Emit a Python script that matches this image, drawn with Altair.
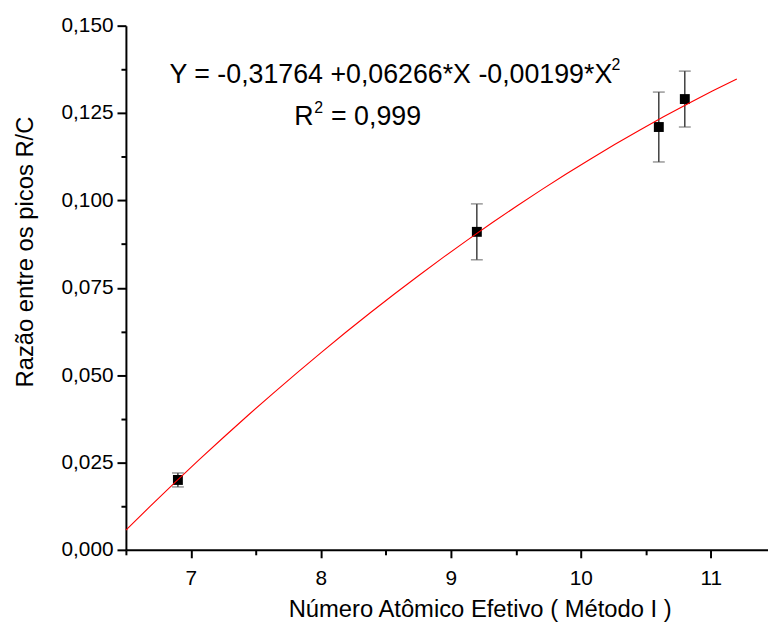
import altair as alt
import pandas as pd

# ---- data ----
x_vals = [6.9, 9.2, 10.6, 10.8]
y_vals = [0.020, 0.091, 0.121, 0.129]
y_err = [0.002, 0.008, 0.010, 0.008]

fit_extent = [6.5, 11.2]
x_domain = [6.5, 11.44]
y_domain = [0.0, 0.15]
x_ticks = [6.5, 7, 7.5, 8, 8.5, 9, 9.5, 10, 10.5, 11]
y_ticks = [0.0, 0.0125, 0.025, 0.0375, 0.05, 0.0625, 0.075, 0.0875,
           0.1, 0.1125, 0.125, 0.1375, 0.15]

x_title = ["Número Atômico Efetivo ( Método I )"]
y_title = ["Razão entre os picos R/C"]
eq_main = ["Y = -0,31764 +0,06266*X -0,00199*X"]
eq_sup = ["2"]
r2_main = ["R"]
r2_sup = ["2"]
r2_rest = ["= 0,999"]

FONT = "Liberation Sans"

df = pd.DataFrame({"x": x_vals, "y": y_vals, "err": y_err})
df["lo"] = df["y"] - df["err"]
df["hi"] = df["y"] + df["err"]

W, H = 648, 529

x_scale = alt.Scale(domain=x_domain, nice=False, zero=False)
y_scale = alt.Scale(domain=y_domain, nice=False, zero=False)

x_axis = alt.Axis(
    values=x_ticks,
    labelExpr="datum.value % 1 === 0 ? format(datum.value, 'd') : ''",
    tickSize={"condition": {"test": "datum.value % 1 === 0", "value": 8}, "value": 5},
    labelPadding=10,
    labelFontSize=21,
    labelOverlap=False,
    labelFlush=False,
    grid=False,
    title=x_title[0],
    titleFontSize=24,
    titleFontWeight="normal",
    titleX=357,
    titleY=67,
    titleBaseline="alphabetic",
    titleAlign="center",
)

y_axis = alt.Axis(
    values=y_ticks,
    labelExpr="round(datum.value*10000) % 250 === 0 ? replace(format(datum.value, '.3f'), '.', ',') : ''",
    tickSize={"condition": {"test": "round(datum.value*10000) % 250 === 0", "value": 9},
              "value": 5},
    labelPadding=4,
    labelFontSize=21,
    labelOverlap=False,
    labelFlush=False,
    grid=False,
    title=y_title[0],
    titleFontSize=24,
    titleFontWeight="normal",
    titleX=-94,
    titleY=228,
    titleAngle=270,
    titleBaseline="alphabetic",
    titleAlign="center",
)

base = alt.Chart(df)

bars = base.mark_rule(color="#222222", strokeWidth=1.3).encode(
    x=alt.X("x:Q", scale=x_scale, axis=x_axis),
    y=alt.Y("lo:Q", scale=y_scale, axis=y_axis),
    y2="hi:Q",
)
cap_lo = base.mark_tick(orient="horizontal", size=12, thickness=1.3, color="#555555").encode(
    x="x:Q", y="lo:Q"
)
cap_hi = base.mark_tick(orient="horizontal", size=12, thickness=1.3, color="#555555").encode(
    x="x:Q", y="hi:Q"
)
points = base.mark_square(size=100, color="black", opacity=1).encode(
    x="x:Q", y="y:Q"
)
curve = base.transform_regression(
    "x", "y", method="poly", order=2, extent=fit_extent
).mark_line(color="#ff0000", strokeWidth=1.1).encode(x="x:Q", y="y:Q")


def label(txt, x, y, size):
    return alt.Chart(pd.DataFrame({"t": txt})).mark_text(
        align="left", baseline="alphabetic", font=FONT, fontSize=size, color="black"
    ).encode(x=alt.value(x), y=alt.value(y), text="t:N")


t1 = label(eq_main, 44, 58, 27)
t2 = label(eq_sup, 490, 45, 16)
t3 = label(r2_main, 170, 100, 27)
t4 = label(r2_sup, 190, 88, 16)
t5 = label(r2_rest, 207, 100, 27)

chart = alt.layer(bars, cap_lo, cap_hi, points, curve, t1, t2, t3, t4, t5).properties(
    width=W,
    height=H,
    autosize=alt.AutoSizeParams(type="none"),
    padding={"left": 119, "top": 15, "right": 0, "bottom": 72},
    background="white",
).configure_view(stroke=None).configure_axis(
    domainColor="black",
    domainWidth=2,
    tickColor="black",
    tickWidth=2,
    labelColor="black",
    titleColor="black",
    labelFont=FONT,
    titleFont=FONT,
)

chart.save("out.html", embed_options={"renderer": "svg", "actions": False})
